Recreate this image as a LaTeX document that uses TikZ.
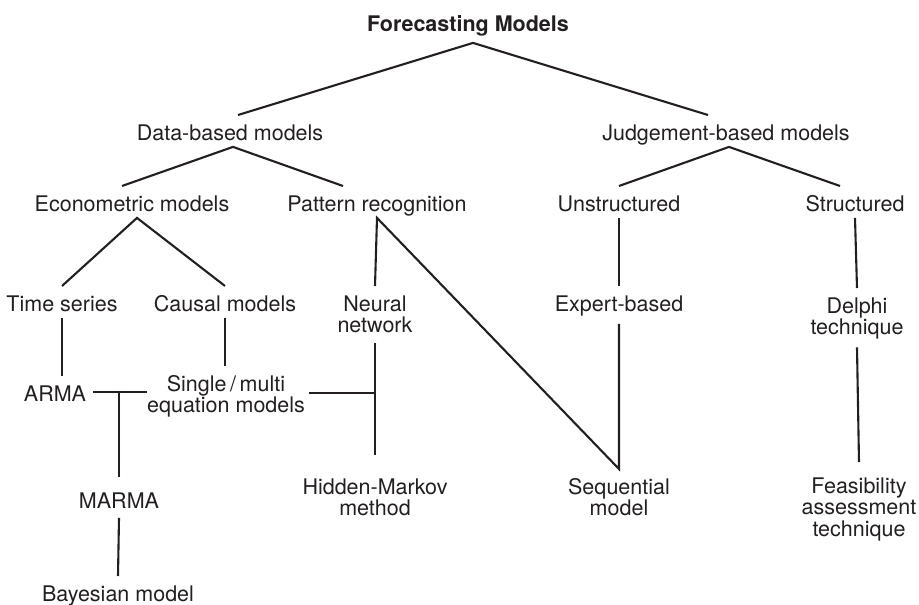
\documentclass[tikz,border=0pt]{standalone}
\usepackage{fontspec}
\setmainfont{TeX Gyre Heros}
\usetikzlibrary{calc}
\definecolor{InkDark}{RGB}{35,31,32}

\begin{document}
\begin{tikzpicture}[x=1pt,y=-1pt,
    lbl/.style={anchor=north,align=center,inner xsep=0pt,inner ysep=2pt,
                text depth=4.5pt,text=InkDark,
                font=\fontsize{21.5pt}{21.5pt}\selectfont},
    one/.style={lbl,text height=23pt},
    two/.style={lbl,text height=44.5pt},
    three/.style={lbl,text height=66pt},
    ln/.style={draw=InkDark,line width=2.1pt,line join=miter}
  ]
  \useasboundingbox (0,0) rectangle (919,605);
  % top
  \node[one] (fm) at (468,6) {\bfseries Forecasting Models};
  \node[one] (dbm) at (230,115) {Data-based models};
  \node[one] (jbm) at (726,115) {Judgement-based models};
  % second row
  \node[one] (eco) at (132,186) {Econometric models};
  \node[one] (pat) at (377,186) {Pattern recognition};
  \node[one] (uns) at (619,186) {Unstructured};
  \node[one] (str) at (855,186) {Structured};
  % third row
  \node[one] (tms) at (62,286) {Time series};
  \node[one] (cau) at (225,286) {Causal models};
  \node[two] (nnw) at (375,286) {Neural\\network};
  \node[one] (exb) at (619,286) {Expert-based};
  \node[two] (del) at (857,288) {Delphi\\technique};
  % fourth row
  \node[one] (arma) at (55,376) {ARMA};
  \node[two] (sme) at (226,366) {Single\,/\,multi\\equation models};
  % lower rows
  \node[one] (marma) at (119,483) {MARMA};
  \node[two] (hmm) at (375,469) {Hidden-Markov\\method};
  \node[two] (seq) at (619,469) {Sequential\\model};
  \node[three] (fat) at (859,468) {Feasibility\\assessment\\technique};
  \node[one] (bay) at (118,576) {Bayesian model};

  \draw[ln] ([xshift=8pt]dbm.north) -- ([xshift=5pt,yshift=-5pt]fm.south)
            -- ([xshift=-18pt]jbm.north);
  \draw[ln] ([xshift=-10pt]eco.north) -- ([xshift=3pt]dbm.south)
            -- ([xshift=-34pt]pat.north);
  \draw[ln] (uns.north) -- ([xshift=3pt]jbm.south) -- ([xshift=-15pt]str.north);
  \draw[ln] (tms.north) -- ([xshift=5pt]eco.south) -- (cau.north);
  \draw[ln] (nnw.north) -- (pat.south) -- (seq.north) -- ([yshift=-6pt]exb.south);
  \draw[ln] (uns.south) -- (exb.north);
  \draw[ln] (str.south) -- (del.north);
  \draw[ln] ([yshift=-6pt]del.south) -- ([yshift=6pt]fat.north);
  \draw[ln] (tms.south) -- (tms.south |- arma.north);
  \draw[ln] (cau.south) -- (cau.south |- sme.north);
  \draw[ln] ([xshift=7pt]arma.east) -- (arma.east -| sme.west);
  \draw[ln] (marma.north |- arma.east) -- ([yshift=6pt]marma.north);
  \draw[ln] ([yshift=-3pt]marma.south) -- (bay.north);
  \draw[ln] ([xshift=4pt]sme.east) -- (sme.east -| hmm.north);
  \draw[ln] ([yshift=-4pt]nnw.south) -- ([yshift=14pt]hmm.north);
\end{tikzpicture}
\end{document}
